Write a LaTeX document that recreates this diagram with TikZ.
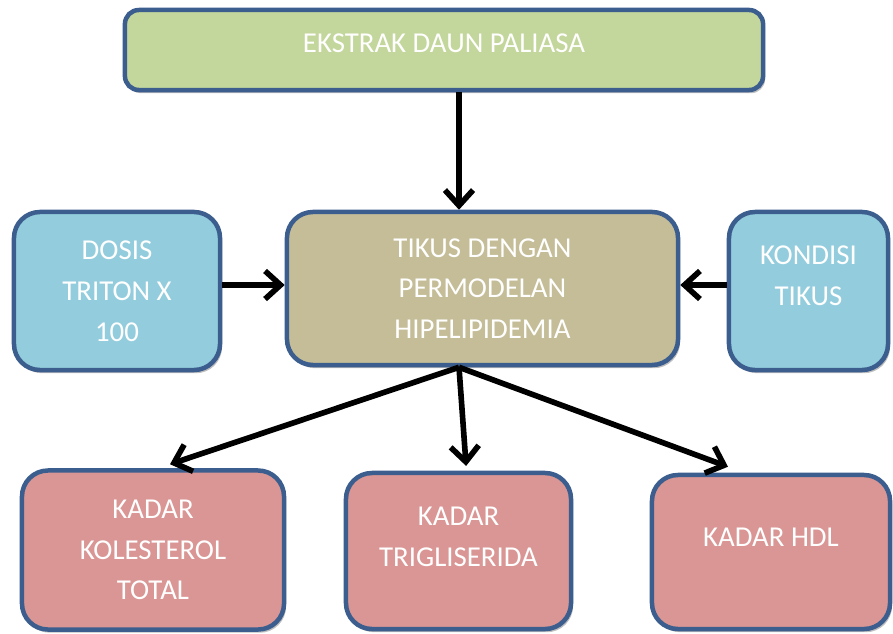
\documentclass[tikz,border=0pt]{standalone}
\usepackage{fontspec}
\setmainfont{Carlito}
\usetikzlibrary{arrows.meta, positioning, shadows}
\definecolor{hijau}{HTML}{C3D69B}
\definecolor{coklat}{HTML}{C4BD97}
\definecolor{biru}{HTML}{93CDDD}
\definecolor{merah}{HTML}{D99694}
\definecolor{garis}{HTML}{3B5E8E}

\begin{document}
\begin{tikzpicture}[x=0.025cm, y=-0.025cm,
        kotak/.style={draw=garis, line width=3.2pt, rounded corners=0.65cm, align=center, text=white,
            font=\fontsize{20.5pt}{29pt}\selectfont,
            drop shadow={shadow xshift=0.05cm, shadow yshift=-0.08cm, opacity=0.25, fill=black}},
        panah/.style={-{Straight Barb[length=11pt, width=20pt]}, line width=4pt}]
        \useasboundingbox (0,0) rectangle (893,633);

        % Node for the extract
        \node[kotak, fill=hijau, rounded corners=0.35cm, minimum width=15.95cm, minimum height=2cm, text depth=0.35cm] (ekstrak) at (444,50) {EKSTRAK DAUN PALIASA};

        % Nodes for the middle row
        \node[kotak, fill=coklat, minimum width=9.775cm, minimum height=3.825cm] (tikus) at (482.5,288.5) {TIKUS DENGAN\\PERMODELAN\\HIPELIPIDEMIA};
        \node[kotak, fill=biru, minimum width=5.15cm, minimum height=3.95cm] (dosis) at (117,291) {DOSIS\\TRITON X\\100};
        \node[kotak, fill=biru, minimum width=3.975cm, minimum height=3.95cm, text depth=0.75cm] (kondisi) at (808.5,291) {KONDISI\\TIKUS};

        % Nodes for the measured results
        \node[kotak, fill=merah, minimum width=6.55cm, minimum height=3.975cm] (kolesterol) at (153,550) {KADAR\\KOLESTEROL\\TOTAL};
        \node[kotak, fill=merah, minimum width=5.625cm, minimum height=3.9cm, text depth=0.725cm] (trigliserida) at (458.5,551) {KADAR\\TRIGLISERIDA};
        \node[kotak, fill=merah, minimum width=5.95cm, minimum height=3.85cm, text depth=0.75cm] (hdl) at (771,552) {KADAR HDL};

        % Point where the arrows meet
        \coordinate (pusat) at (459,285);

        % Arrows into the model
        \draw[panah] (ekstrak.south -| pusat) -- (tikus.north -| pusat);
        \draw[panah] (dosis.east |- pusat) -- (tikus.west |- pusat);
        \draw[panah] (kondisi.west |- pusat) -- (tikus.east |- pusat);

        % Arrows to the results
        \draw[panah] (tikus.south -| pusat) -- ([xshift=0.425cm, yshift=0.1cm]kolesterol.north);
        \draw[panah] (tikus.south -| pusat) -- ([xshift=0.19cm, yshift=0.12cm]trigliserida.north);
        \draw[panah] (tikus.south -| pusat) -- ([xshift=-1.075cm, yshift=0.15cm]hdl.north);
    \end{tikzpicture}
\end{document}
